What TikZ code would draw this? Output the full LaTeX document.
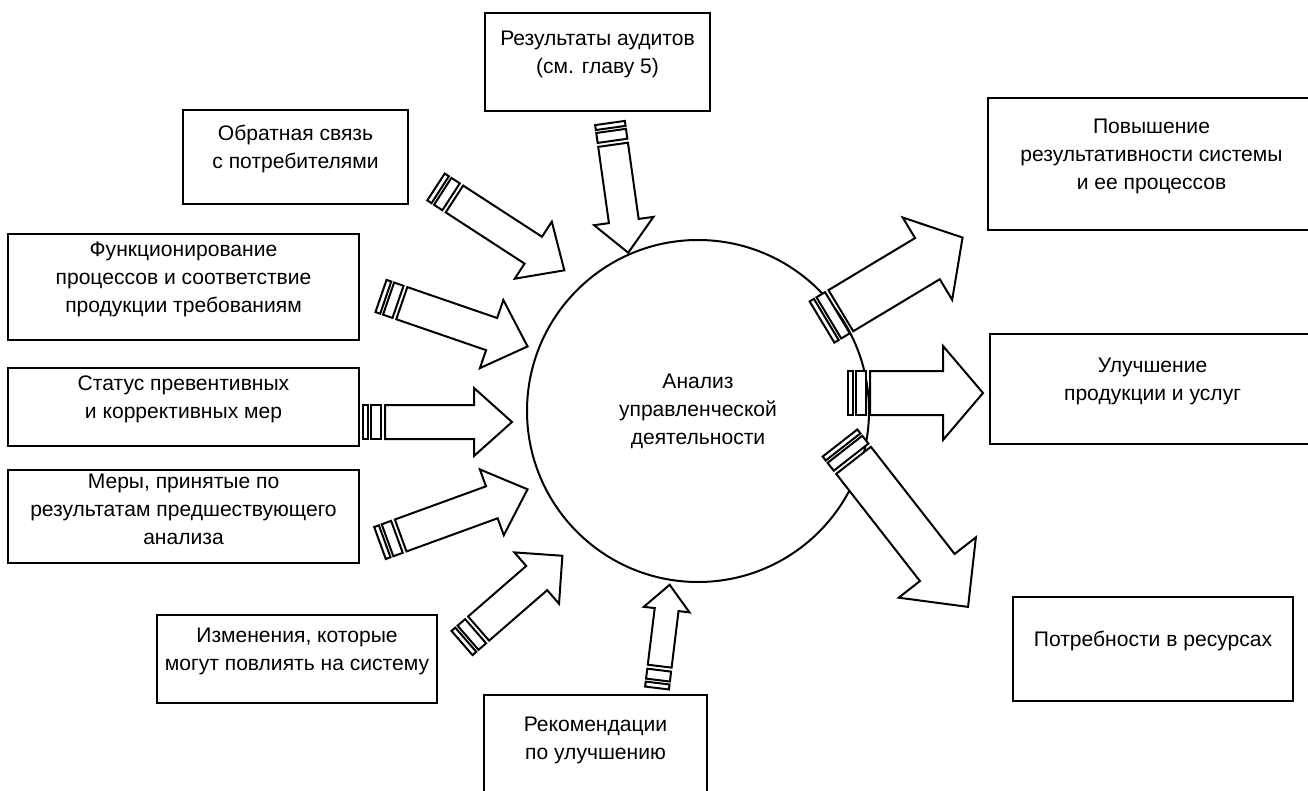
\documentclass[tikz,border=0pt]{standalone}
\usepackage{fontspec}
\setmainfont{Liberation Sans}
\usetikzlibrary{
    fit
  }
\tikzset{box/.style={draw,line width=2.2pt,inner sep=0pt,align=center}}
% block arrow with two stripes at its tail:
% tail, angle, length, half shaft, half head, head length
\newcommand{\stripearrow}[6]{%
  \begin{scope}[shift={#1},rotate=#2,line width=1.5pt,fill=white]
    \filldraw (0,-#4) rectangle (5,#4);
    \filldraw (8,-#4) rectangle (18,#4);
    \filldraw (22,-#4) -- ({#3-#6},-#4) -- ({#3-#6},-#5) -- (#3,0)
      -- ({#3-#6},#5) -- ({#3-#6},#4) -- (22,#4) -- cycle;
  \end{scope}}

\begin{document}
\begin{tikzpicture}[x=0.75pt,y=-0.75pt,font=\fontsize{15.8}{21}\selectfont]
  \useasboundingbox (0,0) rectangle (1308,791);
%
  \node[box,fit={(485,13) (710,111)}] (audit) {Результаты аудитов\\(см. главу 5)};
  \node[box,fit={(183,110) (408,204)}] (feedback) {Обратная связь\\с потребителями};
  \node[box,fit={(8,234) (359,340)}] (func) {Функционирование\\процессов и соответствие\\продукции требованиям};
  \node[box,fit={(8,368) (359,446)}] (status) {Статус превентивных\\и коррективных мер};
  \node[box,fit={(8,470) (359,563)}] (measures) {Меры, принятые по\\результатам предшествующего\\анализа};
  \node[box,fit={(157,615) (437,703)}] (changes) {Изменения, которые\\могут повлиять на систему};
  \node[box,fit={(484,695) (707,800)}] (recommend) {Рекомендации\\по улучшению};
  \node[box,fit={(988,98) (1315,230)}] (efficiency) {Повышение\\результативности системы\\и ее процессов};
  \node[box,fit={(990,334) (1315,444)}] (products) {Улучшение\\продукции и услуг};
  \node[box,fit={(1013,597) (1293,701)}] (resources) {Потребности в ресурсах};
%
  \node[draw,circle,line width=1.5pt,minimum size=256.5pt,align=center] (review) at (698,411)
    {Анализ\\управленческой\\деятельности};
%
  \stripearrow{(610,123)}{-82}{131}{15}{30}{32}
  \stripearrow{(436,187)}{-33}{153}{16}{34}{37}
  \stripearrow{(381,296)}{-19}{155}{17}{36}{38}
  \stripearrow{(363,422)}{0}{149}{17}{34}{38}
  \stripearrow{(380,543)}{20}{157}{17}{35}{38}
  \stripearrow{(462,643)}{41}{133}{16}{34}{34}
  \stripearrow{(657,688)}{83}{104}{12}{23}{25}
  \stripearrow{(822,322)}{31}{164}{24}{48}{41}
  \stripearrow{(848,393)}{0}{135}{22}{47}{40}
  \stripearrow{(840,443)}{-52}{208}{22}{49}{50}
\end{tikzpicture}
\end{document}
